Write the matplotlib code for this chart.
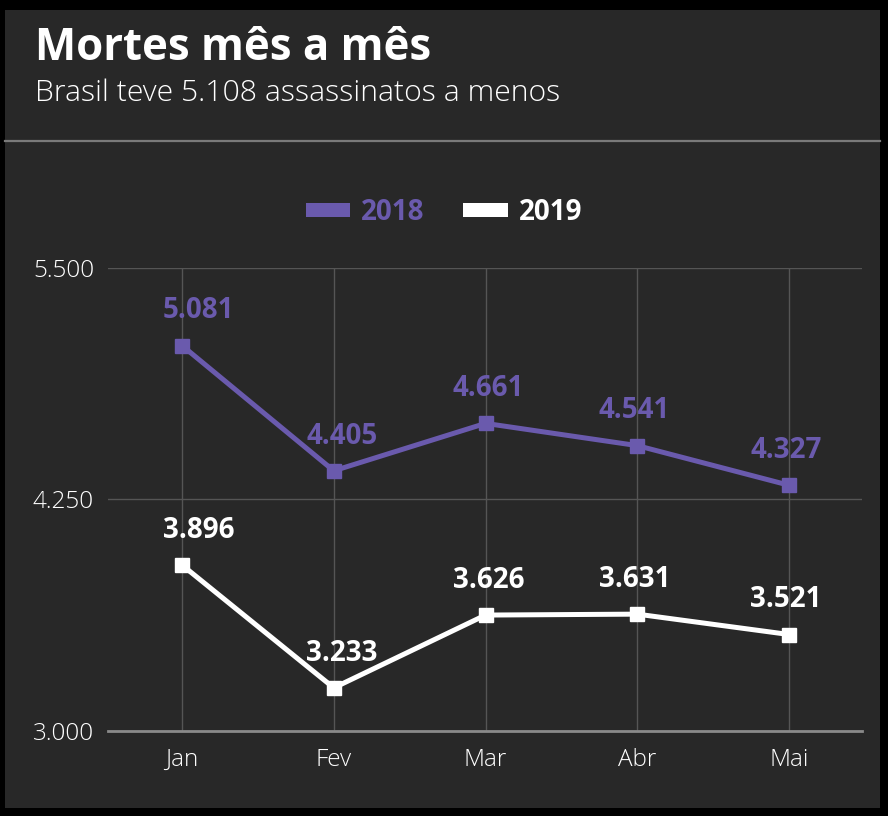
import matplotlib.pyplot as plt
from matplotlib.patches import Patch, Rectangle
from matplotlib.lines import Line2D

# Dados
meses = ['Jan', 'Fev', 'Mar', 'Abr', 'Mai']
mortes_2018 = [5081, 4405, 4661, 4541, 4327]
mortes_2019 = [3896, 3233, 3626, 3631, 3521]
ticks_y = [3000, 4250, 5500]

roxo = '#6a5aad'
branco = '#ffffff'
fundo = '#282828'

# deslocamento horizontal dos rótulos (pontos)
desloc_x = [12, 6, 2, -2, -2]

plt.rcParams['font.family'] = ['Open Sans', 'DejaVu Sans']

fig = plt.figure(figsize=(8.88, 8.16), dpi=100)
fig.patch.set_facecolor('black')

# fundo interno e linha separadora
W, H = 888, 816
fig.patches.append(Rectangle((5 / W, 1 - 808 / H), 875 / W, 798 / H,
                             transform=fig.transFigure, facecolor=fundo,
                             edgecolor='none', zorder=-5))
fig.add_artist(Line2D([5 / W, 880 / W], [1 - 141 / H] * 2, transform=fig.transFigure,
                      color='#7a7a7a', lw=1.6))

fig.text(35 / W, 1 - 48 / H, 'Mortes mês a mês', color='white', fontsize=31.5,
         fontweight='bold', va='center', ha='left')
fig.text(35 / W, 1 - 93 / H, 'Brasil teve 5.108 assassinatos a menos', color='white',
         fontsize=21.7, fontweight='light', va='center', ha='left')

ax = fig.add_axes([108 / W, 1 - 731 / H, 754 / W, 463 / H])
ax.set_facecolor('none')
x = range(len(meses))

ax.plot(x, mortes_2018, color=roxo, lw=3.6, marker='s', markersize=9.5, zorder=3)
ax.plot(x, mortes_2019, color=branco, lw=3.6, marker='s', markersize=9.5, zorder=3)

for i in x:
    ax.annotate(f'{mortes_2018[i]:,}'.replace(',', '.'), (i, mortes_2018[i]),
                xytext=(desloc_x[i], 25), textcoords='offset points', ha='center',
                va='center', color=roxo, fontsize=20, fontweight='bold')
    ax.annotate(f'{mortes_2019[i]:,}'.replace(',', '.'), (i, mortes_2019[i]),
                xytext=(desloc_x[i], 25), textcoords='offset points', ha='center',
                va='center', color=branco, fontsize=20, fontweight='bold')

ax.set_xlim(-0.488, 4.481)
ax.set_ylim(3000, 5500)
ax.set_xticks(list(x))
ax.set_xticklabels(meses)
ax.set_yticks(ticks_y)
ax.set_yticklabels([f'{t:,}'.replace(',', '.') for t in ticks_y])

ax.grid(True, color='#555555', lw=1, zorder=1)
for s in ['top', 'right', 'left']:
    ax.spines[s].set_visible(False)
ax.spines['bottom'].set_color('#8a8a8a')
ax.spines['bottom'].set_linewidth(2)
ax.tick_params(axis='both', length=0, colors='white', labelsize=17.5)
ax.tick_params(axis='y', pad=10)
ax.tick_params(axis='x', pad=12)
for t in ax.get_xticklabels() + ax.get_yticklabels():
    t.set_fontweight('light')

# legenda
handles = [Patch(facecolor=roxo, label='2018'), Patch(facecolor=branco, label='2019')]
fig.legend(handles=handles, loc='center', bbox_to_anchor=(0.5, 1 - 212 / H), ncol=2,
           frameon=False, labelcolor=[roxo, branco], handlelength=1.6, handleheight=0.4,
           handletextpad=0.4, columnspacing=1.4,
           prop={'family': 'Open Sans', 'weight': 'bold', 'size': 20})

fig.savefig('out.png', dpi=100, facecolor=fig.get_facecolor())
